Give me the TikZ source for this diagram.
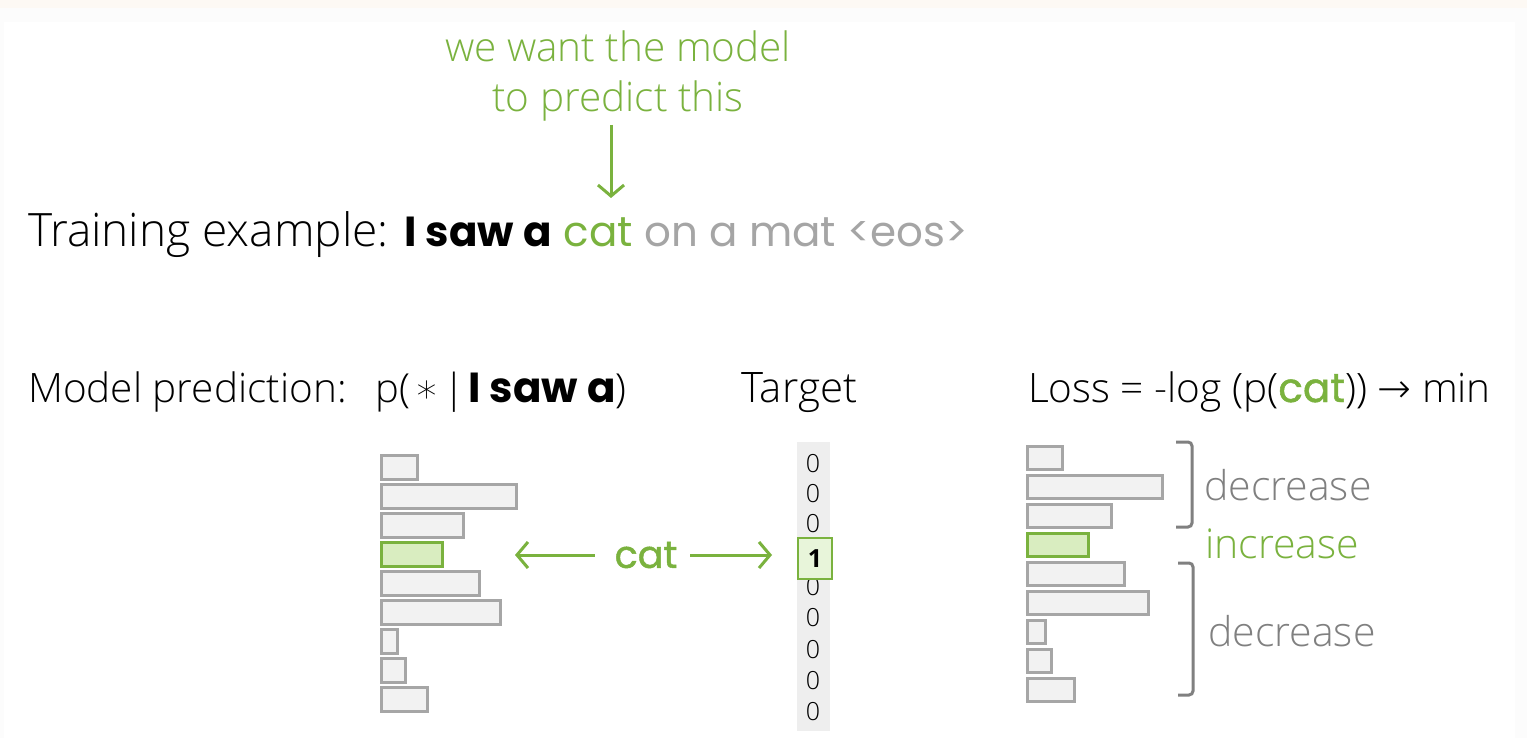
\documentclass[tikz,border=0pt]{standalone}
\usepackage{fontspec}
\setmainfont{Open Sans}[UprightFont=* Light, BoldFont=* Bold]
\newfontfamily\comic{Poppins}
\newfontfamily\comicm{Poppins}[FakeBold=1.2]
\newfontfamily\dejavu{DejaVu Sans}[UprightFont=* ExtraLight]
\usetikzlibrary{arrows.meta}
\definecolor{grn}{RGB}{122,178,62}
\definecolor{lgray}{RGB}{165,165,165}
\definecolor{dgray}{RGB}{128,128,128}
\definecolor{barfill}{RGB}{242,242,242}
\definecolor{barline}{RGB}{166,166,166}
\definecolor{gfill}{RGB}{217,237,192}
\definecolor{boxfill}{RGB}{232,245,218}
\definecolor{colbg}{RGB}{238,238,238}
\definecolor{bgc}{RGB}{252,252,252}
\definecolor{beige}{RGB}{253,249,244}
\begin{document}
\begin{tikzpicture}[x=1pt,y=-1pt,
  bar/.style={draw=barline, fill=barfill, line width=3pt},
  gbar/.style={draw=grn, fill=gfill, line width=3pt},
  lbl/.style={inner sep=0pt, anchor=base west},
  arr/.style={draw=grn, line width=3pt, -{Straight Barb[length=11pt,width=26pt,line width=3pt]}},
  brkt/.style={draw=dgray, line width=3pt, rounded corners=4pt},
  digit/.style={inner sep=0pt, anchor=center, font=\fontsize{25}{25}\selectfont}
]
\useasboundingbox (0,0) rectangle (1527,738);
\fill[bgc] (0,0) rectangle (1527,738);
\fill[beige] (0,0) rectangle (1527,8);
\fill[white] (4,22) rectangle (1515,738);

% top annotation
\node[inner sep=0pt, anchor=base, text=grn, font=\fontsize{40.5}{40}\selectfont] (want1) at (618,62) {we want the model};
\node[inner sep=0pt, anchor=base, text=grn, font=\fontsize{40.5}{40}\selectfont] (want2) at (618,112) {to predict this};
\coordinate (atop) at (611,125);
\coordinate (abot) at (611,198);
\draw[arr] (atop) -- (abot);

% training example
\node[lbl, font=\fontsize{46}{46}\selectfont] (train) at (28,247)
  {Training example: {\fontsize{42}{42}\selectfont\comic\bfseries I saw a} {\fontsize{42}{42}\selectfont\comic\color{grn}cat} {\fontsize{42}{42}\selectfont\comic\color{lgray}on a mat \textless eos\textgreater}};

% headings
\node[lbl, font=\fontsize{40.5}{40}\selectfont] (mp) at (28,402) {Model prediction:};
\node[lbl, font=\fontsize{40}{40}\selectfont] (pp) at (375,402) {p(\hspace{5pt}{\dejavu ∗}\hspace{4pt}|\hspace{3pt}{\fontsize{42}{42}\selectfont\comic\bfseries I saw a})};
\node[lbl, font=\fontsize{42}{42}\selectfont] (tg) at (741,402) {Target};
\node[lbl, font=\fontsize{40.5}{40}\selectfont] (loss) at (1028,402) {Loss = -log (p({\comicm\color{grn}cat})) {\dejavu →} min};

% left bars
\foreach \r [count=\i from 0] in {417,516,463,442,479,500,397,405,427} {
  \ifnum\i=3
    \draw[gbar] (381,455+29.1*\i) rectangle (\r,455+29.1*\i+24);
  \else
    \draw[bar] (381,455+29.1*\i) rectangle (\r,455+29.1*\i+24);
  \fi
}

% cat arrows
\node[inner sep=0pt, text=grn, font=\fontsize{38}{38}\selectfont\comicm] (catm) at (646,555) {cat};
\coordinate (la) at (515,555);
\coordinate (ra) at (772,555);
\draw[arr] ([xshift=-20pt]catm.west) -- (la);
\draw[arr] ([xshift=13pt]catm.east) -- (ra);

% target column
\fill[colbg] (797,442) rectangle (830,731);
\foreach \y [count=\i] in {464,494,524,587,618,650,681,712} {
  \node[digit] (z\i) at (813,\y) {0};
}
\node[draw=grn, fill=boxfill, line width=2pt, minimum width=34pt, minimum height=41pt, inner sep=0pt,
      font=\fontsize{25}{25}\selectfont\bfseries] (one) at (815,558.5) {1};

% right bars
\foreach \r [count=\i from 0] in {1062,1162,1111,1088,1124,1148,1045,1051,1074} {
  \ifnum\i=3
    \draw[gbar] (1027,446+29.1*\i) rectangle (\r,446+29.1*\i+23);
  \else
    \draw[bar] (1027,446+29.1*\i) rectangle (\r,446+29.1*\i+23);
  \fi
}

% brackets
\draw[brkt] (1176,442) -- (1192,442) -- (1192,527) -- (1176,527);
\draw[brkt] (1178,563) -- (1193,563) -- (1193,695) -- (1178,695);

\node[lbl, text=dgray, font=\fontsize{41}{41}\selectfont] (dec1) at (1204,500) {decrease};
\node[lbl, text=grn, font=\fontsize{41}{41}\selectfont] (inc) at (1205,558) {increase};
\node[lbl, text=dgray, font=\fontsize{41}{41}\selectfont] (dec2) at (1208,646) {decrease};
\end{tikzpicture}
\end{document}
